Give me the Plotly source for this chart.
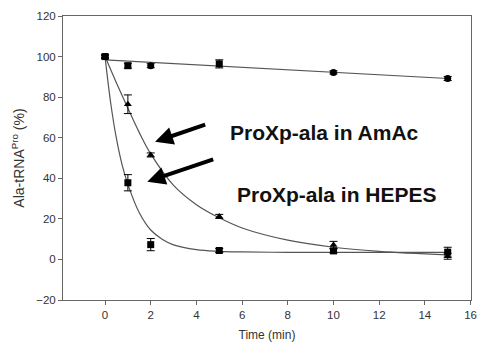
import plotly.graph_objects as go

# measured points
t = [0, 1, 2, 5, 10, 15]
ctrl_y = [100, 95.5, 95.5, 96.4, 92.2, 89.2]
ctrl_err = [0.8, 1.2, 1.0, 2.0, 0.8, 1.0]
amac_y = [100, 76.5, 51.5, 21.2, 7.1, 1.6]
amac_err = [0.8, 4.6, 1.0, 1.0, 1.8, 1.5]
hepes_y = [100, 37.8, 7.3, 4.4, 4.2, 3.6]
hepes_err = [0.8, 4.0, 3.0, 1.0, 1.0, 2.4]

# fitted curves
ctrl_fit_t = [0, 15]
ctrl_fit_y = [98.4, 89.2]
amac_fit_t = [0, 0.5, 1, 1.5, 2, 3, 4, 5, 6, 8, 10, 12, 15]
amac_fit_y = [100, 87, 74.5, 62.5, 52, 36.5, 27, 20.5, 15.5, 9.5, 6, 4, 2.2]
hepes_fit_t = [0, 0.25, 0.5, 0.75, 1, 1.5, 2, 2.5, 3, 4, 5, 6, 8, 10, 15]
hepes_fit_y = [100, 77, 59.5, 46.5, 37, 23, 14.5, 10, 7.2, 4.8, 4.0, 3.7, 3.5, 3.5, 3.5]

x_ticks = [0, 2, 4, 6, 8, 10, 12, 14, 16]
y_ticks = [-20, 0, 20, 40, 60, 80, 100, 120]

line_col = "#555555"
fig = go.Figure()
for ft, fy in [(ctrl_fit_t, ctrl_fit_y), (amac_fit_t, amac_fit_y), (hepes_fit_t, hepes_fit_y)]:
    fig.add_trace(go.Scatter(x=ft, y=fy, mode="lines", line=dict(color=line_col, width=1.2, shape="spline"),
                             showlegend=False, hoverinfo="skip"))

def pts(y, err, sym):
    return go.Scatter(x=t, y=y, mode="markers",
                      marker=dict(symbol=sym, size=7, color="black"),
                      error_y=dict(type="data", array=err, color="black", thickness=1, width=4),
                      showlegend=False)

fig.add_trace(pts(ctrl_y, ctrl_err, ["circle", "square", "circle", "square", "circle", "circle"]))
fig.add_trace(pts(amac_y, amac_err, "triangle-up"))
fig.add_trace(pts(hepes_y, hepes_err, "square"))

# arrows (tip, tail) in data coords
arrows = [((2.19, 58.0), (4.45, 66.7)), ((1.85, 38.3), (4.8, 49.6))]
for (hx, hy), (tx, ty) in arrows:
    fig.add_annotation(x=hx, y=hy, ax=tx, ay=ty, xref="x", yref="y", axref="x", ayref="y",
                       text="", showarrow=True, arrowhead=2, arrowsize=0.9, arrowwidth=4,
                       arrowcolor="black")

fig.add_annotation(x=5.37, y=62.8, xref="x", yref="y", text="<b>ProXp-ala in AmAc</b>",
                   showarrow=False, xanchor="left", yanchor="middle",
                   font=dict(family="Liberation Sans, Arial", size=21, color="#111111"))
fig.add_annotation(x=5.68, y=31.8, xref="x", yref="y", text="<b>ProXp-ala in HEPES</b>",
                   showarrow=False, xanchor="left", yanchor="middle",
                   font=dict(family="Liberation Sans, Arial", size=21, color="#111111"))

axis_common = dict(showline=True, linecolor="#666666", linewidth=1, mirror=True, showgrid=False,
                   zeroline=False, ticks="outside", ticklen=4, tickcolor="#666666", automargin=False,
                   tickfont=dict(family="Liberation Sans, Arial", size=11.5, color="#333333"))
fig.update_xaxes(range=[-1.84, 16.02], tickvals=x_ticks, title=dict(text="Time (min)", standoff=10,
                 font=dict(family="Liberation Sans, Arial", size=12, color="#333333")), **axis_common)
fig.update_yaxes(range=[-20, 120], tickvals=y_ticks, title=dict(text="Ala-tRNA<sup>Pro</sup> (%)", standoff=8,
                 font=dict(family="Liberation Sans, Arial", size=14, color="#333333")), **axis_common)

fig.update_layout(width=477, height=348, margin=dict(l=63, r=6, t=16, b=48),
                  paper_bgcolor="white", plot_bgcolor="white")
fig.write_html("out.html", config={"displayModeBar": False},
               post_script="document.body.style.margin='0';document.body.style.overflow='hidden';")
